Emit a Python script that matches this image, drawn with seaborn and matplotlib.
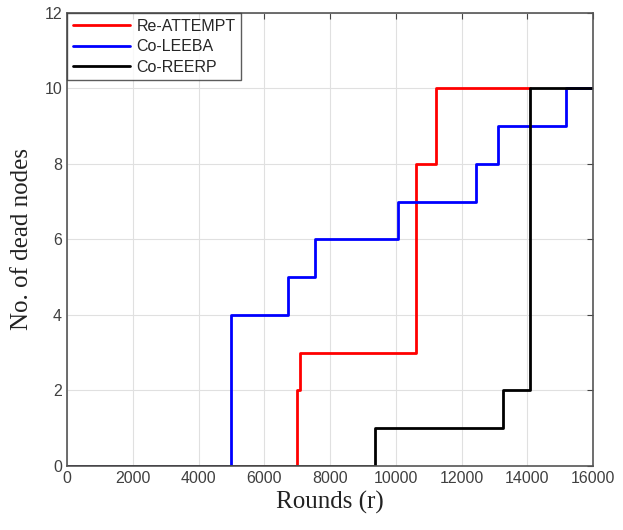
import numpy as np
import pandas as pd
import matplotlib
matplotlib.use('Agg')
import matplotlib.pyplot as plt
import seaborn as sns

# step change points (rounds, dead nodes)
re_attempt_x = [0, 7000, 7100, 10620, 11220, 14070]
re_attempt_y = [0, 2, 3, 8, 10, 10]

co_leeba_x = [0, 4980, 6730, 7540, 10070, 12430, 13110, 15170, 16000]
co_leeba_y = [0, 4, 5, 6, 7, 8, 9, 10, 10]

co_reerp_x = [0, 9360, 13260, 14070, 16000]
co_reerp_y = [0, 1, 2, 10, 10]

names = ['Re-ATTEMPT', 'Co-LEEBA', 'Co-REERP']
colors = ['#ff0000', '#0000ff', '#000000']

frames = []
for name, xs, ys in zip(names, [re_attempt_x, co_leeba_x, co_reerp_x],
                        [re_attempt_y, co_leeba_y, co_reerp_y]):
    frames.append(pd.DataFrame({'Rounds': xs, 'Dead': ys, 'Protocol': name}))
df = pd.concat(frames, ignore_index=True)

sns.set_style('white')
plt.rcParams['font.family'] = ['Liberation Sans', 'DejaVu Sans']

fig = plt.figure(figsize=(6.23, 5.3), dpi=100)
ax = fig.add_axes([0.1075, 0.1208, 0.8445, 0.8547])

sns.lineplot(data=df, x='Rounds', y='Dead', hue='Protocol', hue_order=names,
             palette=colors, estimator=None, sort=False, drawstyle='steps-post',
             linewidth=2, ax=ax)

ax.set_xlim(0, 16000)
ax.set_ylim(0, 12)
ax.set_xticks(np.arange(0, 16001, 2000))
ax.set_yticks(np.arange(0, 13, 2))
ax.grid(True, color='#e0e0e0', linewidth=0.8)
ax.tick_params(direction='in', top=True, right=True, labelsize=11.5,
               length=4, color='#444444', labelcolor='#404040')
for s in ax.spines.values():
    s.set_color('#555555')
    s.set_linewidth(1.2)

ax.set_xlabel('Rounds (r)', family='Liberation Serif', fontsize=18, color='#222222')
ax.set_ylabel('No. of dead nodes', family='Liberation Serif', fontsize=18,
              color='#222222', labelpad=8)

leg = ax.legend(loc='upper left', fontsize=11.5, frameon=True, fancybox=False,
                borderpad=0.35, handlelength=3.6, handletextpad=0.4,
                labelspacing=0.35, borderaxespad=0.0)
leg.get_frame().set_edgecolor('#333333')
leg.get_frame().set_linewidth(1.0)
leg.set_title(None)

fig.savefig('out.png', dpi=100)
